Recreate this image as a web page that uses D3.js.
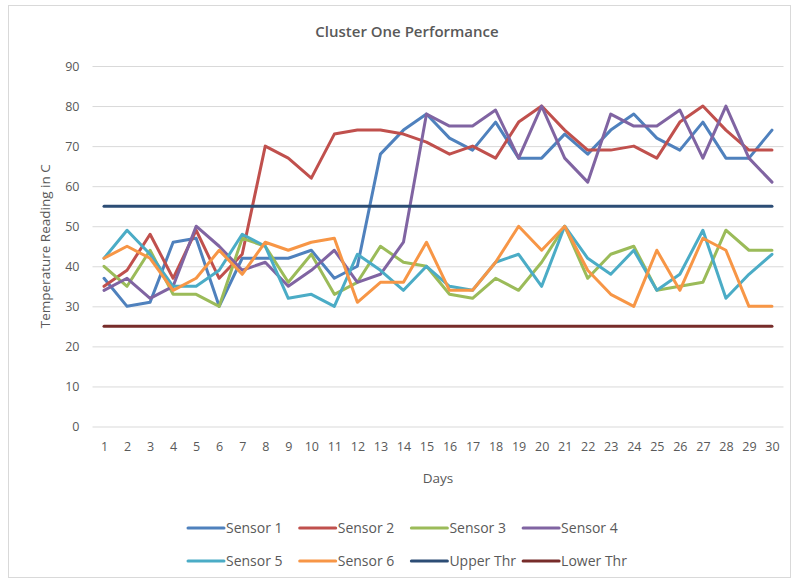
<!DOCTYPE html>
<meta charset="utf-8">
<style>

body {
  margin: 0;
  background: #fff;
}

text {
  font-family: "Open Sans", "Liberation Sans", sans-serif;
  fill: #595959;
}

.grid line {
  stroke: #d9d9d9;
}

.series {
  fill: none;
  stroke-width: 3;
  stroke-linejoin: round;
  stroke-linecap: round;
}

</style>
<svg width="792" height="582"></svg>
<script src="https://d3js.org/d3.v7.min.js"></script>
<script>

// days on the category axis
var days = d3.range(1, 31);

// sensor readings, one value per day
var sensor1 = [37, 30, 31, 46, 47, 30, 42, 42, 42, 44, 37, 40, 68, 74, 78, 72, 69, 76, 67, 67, 73, 68, 74, 78, 72, 69, 76, 67, 67, 74];
var sensor2 = [35, 39, 48, 37, 49, 37, 43, 70, 67, 62, 73, 74, 74, 73, 71, 68, 70, 67, 76, 80, 74, 69, 69, 70, 67, 76, 80, 74, 69, 69];
var sensor3 = [40, 35, 44, 33, 33, 30, 47, 45, 36, 43, 33, 36, 45, 41, 40, 33, 32, 37, 34, 41, 50, 37, 43, 45, 34, 35, 36, 49, 44, 44];
var sensor4 = [34, 37, 32, 35, 50, 45, 39, 41, 35, 39, 44, 36, 38, 46, 78, 75, 75, 79, 67, 80, 67, 61, 78, 75, 75, 79, 67, 80, 67, 61];
var sensor5 = [42, 49, 43, 35, 35, 39, 48, 45, 32, 33, 30, 43, 39, 34, 40, 35, 34, 41, 43, 35, 50, 42, 38, 44, 34, 38, 49, 32, 38, 43];
var sensor6 = [42, 45, 42, 34, 37, 44, 38, 46, 44, 46, 47, 31, 36, 36, 46, 34, 34, 41, 50, 44, 50, 39, 33, 30, 44, 34, 47, 44, 30, 30];
var upperThr = days.map(function() { return 55; });
var lowerThr = days.map(function() { return 25; });

var seriesNames = ["Sensor 1", "Sensor 2", "Sensor 3", "Sensor 4", "Sensor 5", "Sensor 6", "Upper Thr", "Lower Thr"];
var seriesValues = [sensor1, sensor2, sensor3, sensor4, sensor5, sensor6, upperThr, lowerThr];
var seriesColors = ["#4f81bd", "#c0504d", "#9bbb59", "#8064a2", "#4bacc6", "#f79646", "#2c4d75", "#772c2a"];

var yTicks = d3.range(0, 100, 10);

var svg = d3.select("svg");

// light frame round the chart
svg.append("rect")
    .attr("x", 8.5)
    .attr("y", 5.5)
    .attr("width", 782)
    .attr("height", 572)
    .attr("fill", "#fff")
    .attr("stroke", "#d9d9d9");

var plot = {left: 92.5, right: 783.5, top: 66, bottom: 426.5};

var x = d3.scalePoint()
    .domain(days)
    .range([plot.left, plot.right])
    .padding(0.5);

var y = d3.scaleLinear()
    .domain([0, 90])
    .range([plot.bottom, plot.top]);

// horizontal grid + value labels
var yAxis = svg.append("g")
    .attr("class", "grid")
    .attr("transform", "translate(" + plot.left + ",0)")
    .call(d3.axisLeft(y)
      .tickValues(yTicks)
      .tickSize(-(plot.right - plot.left))
      .tickPadding(13));

yAxis.select(".domain").remove();
yAxis.selectAll("text")
    .style("font-size", "12.5px")
    .attr("fill", "#595959");

// day labels
var xAxis = svg.append("g")
    .attr("transform", "translate(0," + plot.bottom + ")")
    .call(d3.axisBottom(x).tickSize(0).tickPadding(16));

xAxis.select(".domain").remove();
xAxis.selectAll("text")
    .style("font-size", "12.5px")
    .attr("fill", "#595959");

var line = d3.line()
    .x(function(d, i) { return x(days[i]); })
    .y(function(d) { return y(d); });

svg.append("g")
  .selectAll("path")
  .data(seriesValues)
  .enter().append("path")
    .attr("class", "series")
    .attr("stroke", function(d, i) { return seriesColors[i]; })
    .attr("d", line);

// titles
svg.append("text")
    .attr("x", 407)
    .attr("y", 37)
    .attr("text-anchor", "middle")
    .style("font-size", "15px")
    .style("font-weight", "600")
    .text("Cluster One Performance");

svg.append("text")
    .attr("transform", "translate(50," + ((plot.top + plot.bottom) / 2) + ") rotate(-90)")
    .attr("text-anchor", "middle")
    .style("font-size", "13.5px")
    .text("Temperature Reading in C");

svg.append("text")
    .attr("x", 438)
    .attr("y", 483)
    .attr("text-anchor", "middle")
    .style("font-size", "13.5px")
    .text("Days");

// legend, two rows of four
var legend = svg.append("g")
  .selectAll("g")
  .data(seriesNames)
  .enter().append("g")
    .attr("transform", function(d, i) {
      return "translate(" + (188 + (i % 4) * 111.7) + "," + (528 + Math.floor(i / 4) * 33) + ")";
    });

legend.append("line")
    .attr("x1", 0)
    .attr("x2", 36)
    .attr("stroke-width", 3)
    .attr("stroke-linecap", "round")
    .attr("stroke", function(d, i) { return seriesColors[i]; });

legend.append("text")
    .attr("x", 38)
    .attr("dy", "0.35em")
    .style("font-size", "14px")
    .text(function(d) { return d; });

</script>
